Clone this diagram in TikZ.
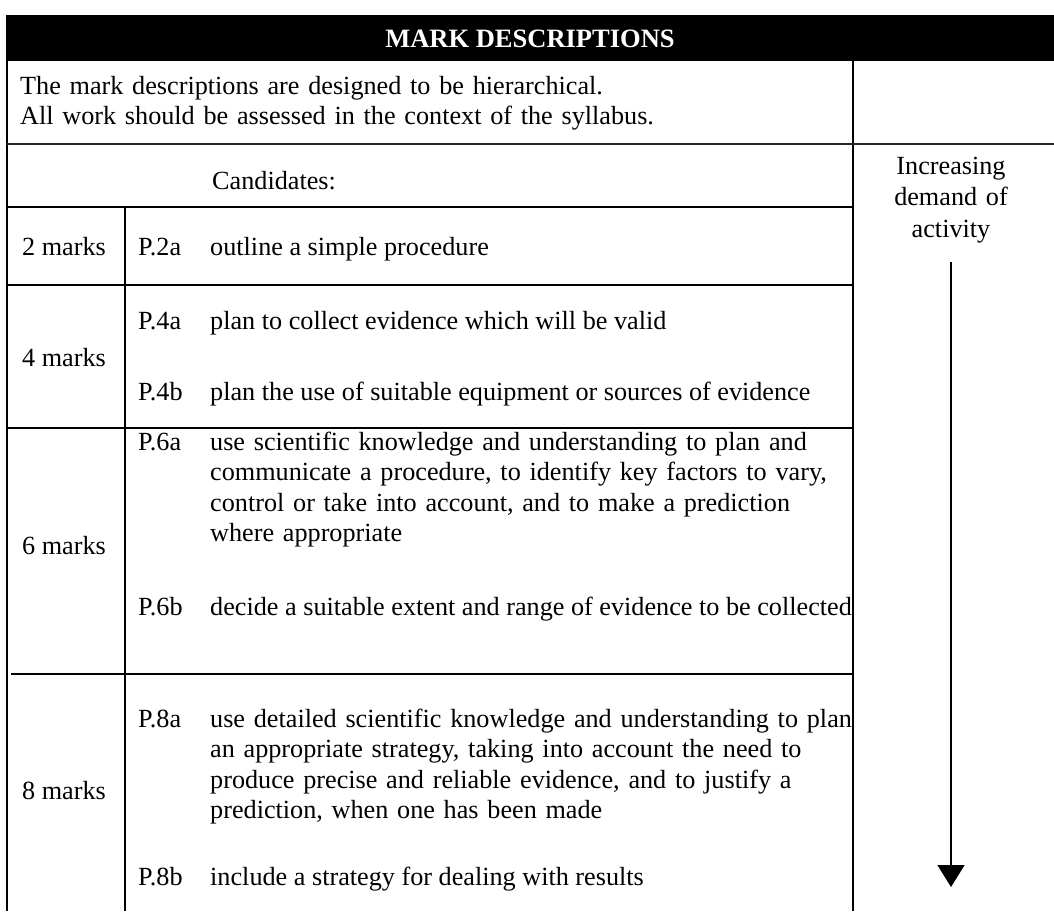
\documentclass[tikz,border=0pt]{standalone}
\usepackage{fontspec}
\setmainfont{Liberation Serif}
\usetikzlibrary{arrows.meta}
\begin{document}
\begin{tikzpicture}[x=1pt,y=-1pt,
  rule/.style={line width=1.4pt,black},
  txt/.style={inner sep=0pt,anchor=base west,font=\fontsize{26.2}{30.5}\selectfont},
  para/.style={txt,text width=680pt,align=left},
  head/.style={inner sep=0pt,anchor=base,text=white,font=\fontsize{26.5}{30.5}\selectfont\bfseries}]
\useasboundingbox (0,0) rectangle (1054,911);
% header bar
\fill[black] (6,15) rectangle (1054,61);
\node[head] (title) at (530,47) {MARK DESCRIPTIONS};
% rules
\draw[rule] (7,61) -- (7,911);
\draw[rule] (853,61) -- (853,911);
\draw[line width=2pt,black!85] (7,144) -- (1054,144);
\draw[rule] (7,207) -- (853,207);
\draw[rule] (125,207) -- (125,911);
\draw[rule] (7,285) -- (853,285);
\draw[rule] (7,428) -- (853,428);
\draw[rule] (11,674) -- (853,674);
% intro
\node[para] (intro) at (20,94) {The mark descriptions are designed to be hierarchical.\\All work should be assessed in the context of the syllabus.};
\node[txt] (cand) at (212,189) {Candidates:};
% right column
\node[inner sep=0pt,anchor=base,text width=180pt,align=center,font=\fontsize{26.2}{31.5}\selectfont] (incr) at (951,174) {Increasing\\demand of\\activity};
\coordinate (arrtop) at (951,262);
\coordinate (arrbot) at (951,887);
\draw[line width=1.4pt,-{Triangle[width=27pt,length=22pt]}] (arrtop) -- (arrbot);
% 2 marks
\node[txt] (m2) at (22,255) {2 marks};
\node[txt] (p2a) at (138,255) {P.2a};
\node[txt] (d2a) at (210,255) {outline a simple procedure};
% 4 marks
\node[txt] (m4) at (22,366) {4 marks};
\node[txt] (p4a) at (138,329) {P.4a};
\node[txt] (d4a) at (210,329) {plan to collect evidence which will be valid};
\node[txt] (p4b) at (138,400) {P.4b};
\node[txt] (d4b) at (210,400) {plan the use of suitable equipment or sources of evidence};
% 6 marks
\node[txt] (m6) at (22,554) {6 marks};
\node[txt] (p6a) at (138,450) {P.6a};
\node[para] (d6a) at (210,450) {use scientific knowledge and understanding to plan and\\communicate a procedure, to identify key factors to vary,\\control or take into account, and to make a prediction\\where appropriate};
\node[txt] (p6b) at (138,615) {P.6b};
\node[txt] (d6b) at (210,615) {decide a suitable extent and range of evidence to be collected};
% 8 marks
\node[txt] (m8) at (22,799) {8 marks};
\node[txt] (p8a) at (138,727) {P.8a};
\node[para] (d8a) at (210,727) {use detailed scientific knowledge and understanding to plan\\an appropriate strategy, taking into account the need to\\produce precise and reliable evidence, and to justify a\\prediction, when one has been made};
\node[txt] (p8b) at (138,885) {P.8b};
\node[txt] (d8b) at (210,885) {include a strategy for dealing with results};
\end{tikzpicture}
\end{document}
